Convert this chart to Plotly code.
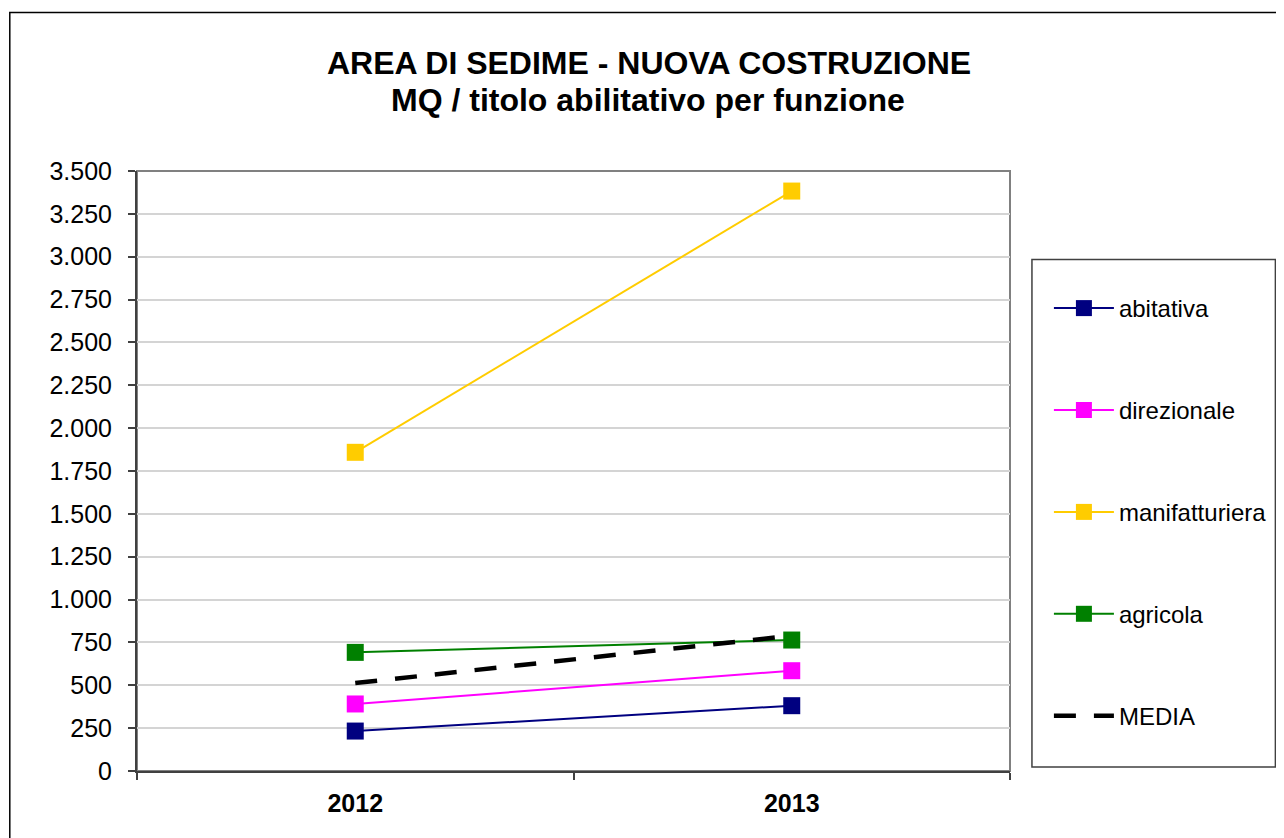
import plotly.graph_objects as go

years = ["2012", "2013"]
abitativa = [233, 381]
direzionale = [391, 585]
manifatturiera = [1859, 3383]
agricola = [692, 764]
media = [513, 789]

series = [
    ("abitativa", abitativa, "#000080"),
    ("direzionale", direzionale, "#FF00FF"),
    ("manifatturiera", manifatturiera, "#FFCC00"),
    ("agricola", agricola, "#008000"),
]

FONT = "Liberation Sans, Arial, sans-serif"

fig = go.Figure()
for i, (name, vals, col) in enumerate(series):
    fig.add_trace(go.Scatter(
        x=years, y=vals, name=name, mode="lines+markers",
        line=dict(color=col, width=2),
        marker=dict(symbol="square", size=17, color=col, line=dict(width=0)),
        legendgroup=f"g{i}",
    ))
fig.add_trace(go.Scatter(
    x=years, y=media, name="MEDIA", mode="lines",
    line=dict(color="black", width=4.5, dash="22px,18px"),
    legendgroup="g4",
))

# page body has an 8px margin; work in reference-screen pixels and shift
OFF = 8
W, H = 1284 - OFF, 838 - OFF
L, R, T, B = 137 - OFF, 1012 - OFF, 171 - OFF, 771 - OFF
pw, ph = R - L, B - T

def px_x(p):
    return (p - OFF - L) / pw

def px_y(p):
    return (B - (p - OFF)) / ph

shapes = [
    # plot area top/right border
    dict(type="rect", xref="paper", yref="paper", x0=0, x1=1, y0=0, y1=1,
         line=dict(color="#808080", width=2), layer="below"),
    # outer chart border
    dict(type="rect", xref="paper", yref="paper",
         x0=px_x(9.5), x1=px_x(1283), y0=px_y(860), y1=px_y(12.5),
         line=dict(color="black", width=1.5), layer="below"),
    # legend box
    dict(type="rect", xref="paper", yref="paper",
         x0=px_x(1034), x1=px_x(1278), y0=px_y(767), y1=px_y(259.5),
         line=dict(color="#404040", width=1.5), layer="below"),
]

annotations = [
    dict(text="<b>MQ / titolo abilitativo per funzione</b>",
         xref="paper", yref="paper", x=px_x(649), y=px_y(100),
         xanchor="center", yanchor="middle", showarrow=False,
         font=dict(family=FONT, size=32, color="black")),
]

fig.update_layout(
    width=W, height=H,
    margin=dict(l=L, r=W - R, t=T, b=H - B, pad=0),
    paper_bgcolor="white", plot_bgcolor="white",
    separators=",.",
    font=dict(family=FONT, color="black", size=24),
    title=dict(
        text="<b>AREA DI SEDIME - NUOVA COSTRUZIONE</b>",
        x=(649 - OFF) / W, xanchor="center", xref="container",
        y=1 - (63 - OFF) / H, yanchor="middle", yref="container",
        font=dict(family=FONT, size=32, color="black"),
    ),
    xaxis=dict(
        type="category", range=[-0.5, 1.5],
        showgrid=False, showline=True, linecolor="#404040", linewidth=2,
        ticks="outside", tickson="boundaries", ticklen=7, tickwidth=1.5, tickcolor="#404040",
        tickfont=dict(family=FONT, size=25, color="black", weight="bold"),
        ticklabelstandoff=9,
    ),
    yaxis=dict(
        range=[0, 3500], dtick=250, tick0=0, tickformat=",.0f",
        showgrid=True, gridcolor="#d4d4d4", gridwidth=1.5,
        showline=True, linecolor="#404040", linewidth=2, zeroline=False,
        ticks="outside", ticklen=7, tickwidth=1.5, tickcolor="#404040",
        tickfont=dict(family=FONT, size=25, color="black"),
        ticklabelstandoff=11,
    ),
    legend=dict(
        x=px_x(1051), xanchor="left", y=px_y(286), yanchor="top",
        bgcolor="rgba(0,0,0,0)", borderwidth=0,
        font=dict(family=FONT, size=24, color="black"),
        traceorder="grouped", tracegroupgap=67.7,
        itemwidth=60,
    ),
    shapes=shapes,
    annotations=annotations,
    showlegend=True,
)

fig.write_html("out.html")
